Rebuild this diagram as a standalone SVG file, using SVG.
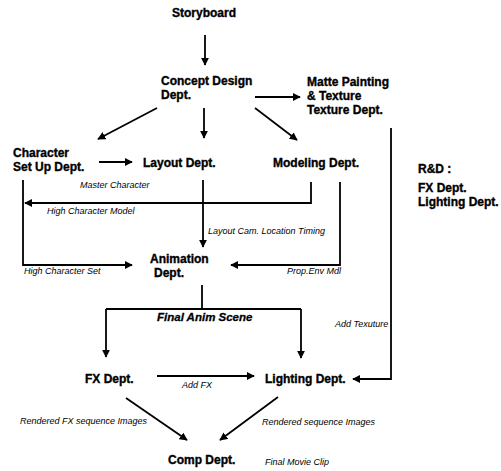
<svg xmlns="http://www.w3.org/2000/svg" width="501" height="471" viewBox="0 0 501 471">
<style>
.n{font-family:"Liberation Sans",Arial,sans-serif;font-weight:bold;font-size:12px;fill:#000;stroke:#000;stroke-width:0.35}
.l{font-family:"Liberation Sans",Arial,sans-serif;font-style:italic;font-size:9px;fill:#000}
.fa{font-family:"Liberation Sans",Arial,sans-serif;font-style:italic;font-weight:bold;font-size:11.5px;fill:#000;stroke:#000;stroke-width:0.3}
.c{fill:none;stroke:#000;stroke-width:1.8}
</style>
<defs>
<marker id="a" viewBox="0 0 10 10" refX="9" refY="5" markerWidth="4.5" markerHeight="4.5" orient="auto" markerUnits="strokeWidth">
<path d="M0,0 L10,5 L0,10 z" fill="#000"/>
</marker>
</defs>
<rect width="501" height="471" fill="#fff"/>
<g id="connectors">
<path class="c" d="M205,35 V65" marker-end="url(#a)"/>
<path class="c" d="M204,108 V138" marker-end="url(#a)"/>
<path class="c" d="M157,108 L98,139" marker-end="url(#a)"/>
<path class="c" d="M255,97 H300" marker-end="url(#a)"/>
<path class="c" d="M255,108 L297,140" marker-end="url(#a)"/>
<path class="c" d="M99,162 H132" marker-end="url(#a)"/>
<path class="c" d="M23,180 V265 H132" marker-end="url(#a)"/>
<path class="c" d="M311,182 V203 H25" marker-end="url(#a)"/>
<path class="c" d="M203,180 V247" marker-end="url(#a)"/>
<path class="c" d="M340,182 V265 H231" marker-end="url(#a)"/>
<path class="c" d="M202,285 V309"/>
<path class="c" d="M106,309 H301"/>
<path class="c" d="M106,309 V357" marker-end="url(#a)"/>
<path class="c" d="M301,309 V358" marker-end="url(#a)"/>
<path class="c" d="M157,376 H254" marker-end="url(#a)"/>
<path class="c" d="M391,128 V379 H353" marker-end="url(#a)"/>
<path class="c" d="M126,398 L187,440" marker-end="url(#a)"/>
<path class="c" d="M278,397 L220,440" marker-end="url(#a)"/>
<text class="l" x="80" y="188">Master Character</text>
<text class="l" x="47" y="214">High Character Model</text>
<text class="l" x="24" y="274">High Character Set</text>
<text class="l" x="208" y="234">Layout Cam. Location Timing</text>
<text class="l" x="287" y="274">Prop.Env Mdl</text>
<text class="fa" x="157" y="321">Final Anim Scene</text>
<text class="l" x="182" y="388">Add FX</text>
<text class="l" x="335" y="327">Add Texuture</text>
<text class="l" x="20" y="424">Rendered FX sequence Images</text>
<text class="l" x="262" y="425">Rendered sequence Images</text>
<text class="l" x="265" y="465">Final Movie Clip</text>
</g>
<g id="storyboard"><text class="n" x="172" y="17">Storyboard</text></g>
<g id="concept"><text class="n" x="161" y="84.5">Concept Design</text><text class="n" x="161" y="98.5">Dept.</text></g>
<g id="matte"><text class="n" x="307" y="86">Matte Painting</text><text class="n" x="307" y="100">&amp; Texture</text><text class="n" x="307" y="114">Texture Dept.</text></g>
<g id="character"><text class="n" x="13" y="157">Character</text><text class="n" x="13" y="171">Set Up Dept.</text></g>
<g id="layout"><text class="n" x="143" y="167">Layout Dept.</text></g>
<g id="modeling"><text class="n" x="273" y="167">Modeling Dept.</text></g>
<g id="rnd"><text class="n" x="418" y="173">R&amp;D :</text><text class="n" x="418" y="192">FX Dept.</text><text class="n" x="418" y="206">Lighting Dept.</text></g>
<g id="animation"><text class="n" x="150" y="263">Animation</text><text class="n" x="154" y="277">Dept.</text></g>
<g id="fx"><text class="n" x="85" y="383">FX Dept.</text></g>
<g id="lighting"><text class="n" x="265" y="383">Lighting Dept.</text></g>
<g id="comp"><text class="n" x="168" y="464">Comp Dept.</text></g>
</svg>
